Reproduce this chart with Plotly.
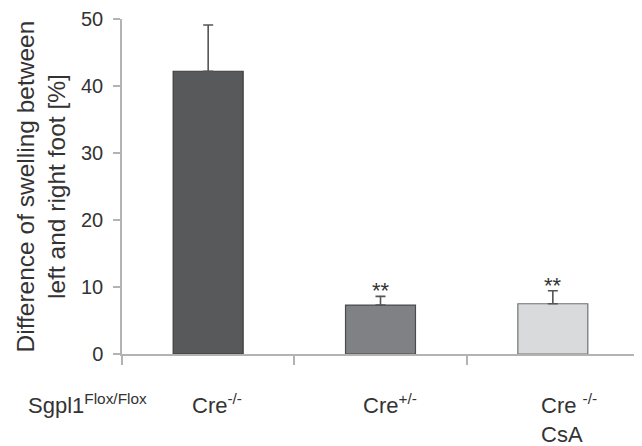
import plotly.graph_objects as go

categories = ["Cre-/-", "Cre+/-", "Cre-/- CsA"]
values = [42.2, 7.3, 7.5]
errors = [6.9, 1.3, 1.95]
bar_colors = ["#58595b", "#808184", "#d9dadc"]
outline_colors = ["#3c3d3f", "#4a4b4d", "#707173"]
significance = ["", "**", "**"]
label_texts = ["Cre<sup>-/-</sup>", "Cre<sup>+/-</sup>", "Cre <sup>-/-</sup><br>CsA"]
y_ticks = [0, 10, 20, 30, 40, 50]
y_title = "Difference of swelling between<br>left and right foot [%]"
row_label = "Sgpl1<sup>Flox/Flox</sup>"

FONT = "Liberation Sans, Arial, sans-serif"
TXT = "#333333"
AX = "#b3b3b3"

# the page body has an 8px margin, so the figure is sized/shifted to compensate
fig = go.Figure()
fig.add_trace(go.Bar(
    x=categories, y=values, width=0.406,
    marker=dict(color=bar_colors, line=dict(color=outline_colors, width=1.2)),
    error_y=dict(type="data", array=errors, arrayminus=[0] * len(errors),
                 symmetric=False, color="#555555", thickness=1.6, width=5),
    showlegend=False,
))

annotations = []
for c, v, e, s in zip(categories, values, errors, significance):
    if s:
        annotations.append(dict(x=c, y=v + e, xref="x", yref="y", text=s,
                                showarrow=False, yanchor="bottom", yshift=-9,
                                font=dict(family=FONT, size=22, color=TXT)))

shifts = [-18, -20, -14]
for c, t, sh in zip(categories, label_texts, shifts):
    annotations.append(dict(x=c, y=0, xref="x", yref="paper", text=t,
                            showarrow=False, xanchor="left", yanchor="top",
                            align="left", xshift=sh, yshift=-34,
                            font=dict(family=FONT, size=22, color=TXT)))

annotations.append(dict(x=0, y=0, xref="paper", yref="paper", text=row_label,
                        showarrow=False, xanchor="left", yanchor="top",
                        xshift=26 - 122, yshift=-34,
                        font=dict(family=FONT, size=22, color=TXT)))

annotations.append(dict(x=0, y=0.5, xref="paper", yref="paper", text=y_title,
                        showarrow=False, textangle=-90, xanchor="center",
                        yanchor="middle", xshift=41 - 122,
                        font=dict(family=FONT, size=24.5, color=TXT)))

fig.update_layout(
    width=634, height=438,
    margin=dict(l=114, r=3, t=11, b=92, autoexpand=False),
    paper_bgcolor="white", plot_bgcolor="white",
    annotations=annotations,
)
fig.update_xaxes(
    range=[-0.5, 2.5], tickson="boundaries", ticks="outside", ticklen=9,
    tickcolor=AX, tickwidth=1.5, showticklabels=False, automargin=False,
    showline=True, linecolor=AX, linewidth=1.5, showgrid=False, zeroline=False,
)
fig.update_yaxes(
    range=[0, 50], tickvals=y_ticks, ticks="outside", ticklen=7,
    tickcolor=AX, tickwidth=1.5, showline=True, linecolor=AX, linewidth=1.5,
    showgrid=False, zeroline=False, ticklabelstandoff=6, automargin=False,
    tickfont=dict(family=FONT, size=20, color=TXT),
)

fig.write_html("out.html")
